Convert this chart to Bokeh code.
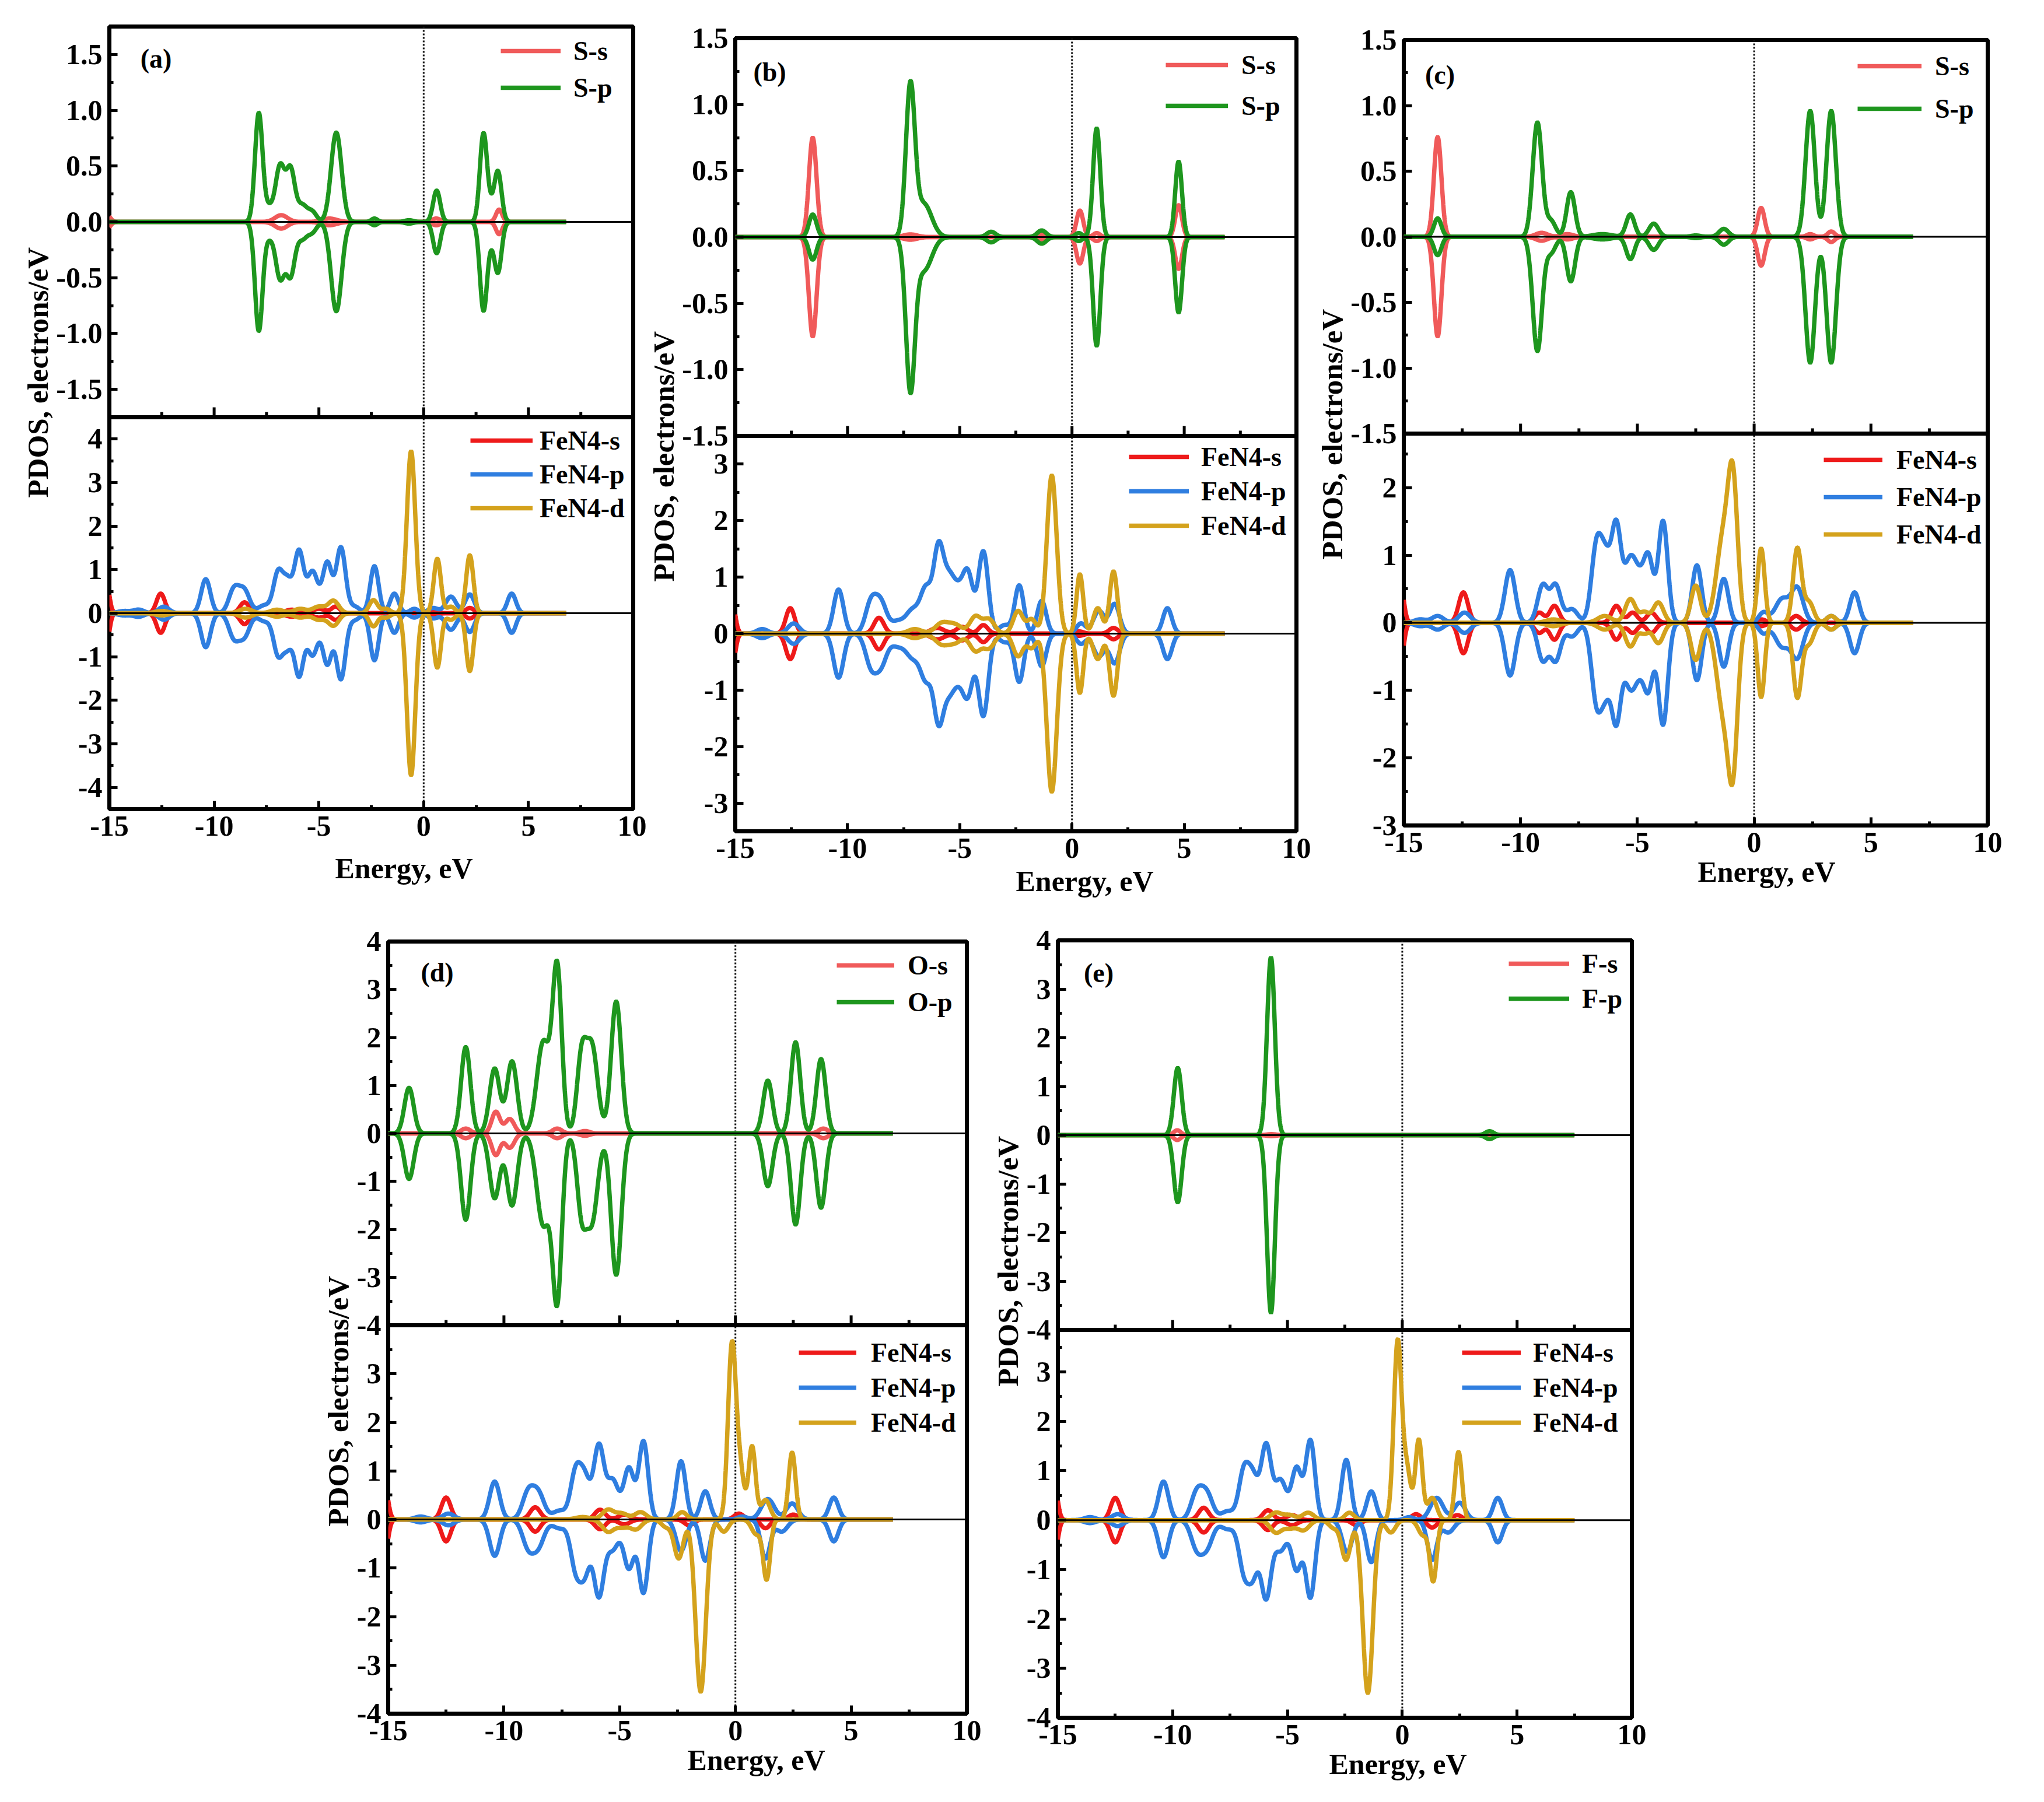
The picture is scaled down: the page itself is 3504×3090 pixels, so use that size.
import numpy as np

from bokeh.plotting import figure
from bokeh.models import Range1d, FixedTicker, Span, Label, Legend, LegendItem, Spacer, Title
from bokeh.layouts import row, column
from bokeh.embed import file_html
from bokeh.resources import INLINE

FONT = "Liberation Serif"

# colours of the orbitals
c_xs = "#f05a5a"   # S-s / O-s / F-s
c_xp = "#1e961e"   # S-p / O-p / F-p
c_fs = "#ee1a1a"   # FeN4-s
c_fp = "#2f7ee0"   # FeN4-p
c_fd = "#d4a21c"   # FeN4-d

# energy axis
x_major = [-15, -10, -5, 0, 5, 10]
x_minor = [-12.5, -7.5, -2.5, 2.5, 7.5]

# PDOS peaks: (energy eV, height electrons/eV, broadening eV)
# ---- (a) S doped
a_s_s = [(-15.1, 0.06, 0.15), (-6.8, 0.06, 0.3), (-4.5, 0.03, 0.35), (0.6, 0.03, 0.2), (3.6, 0.11, 0.15)]
a_s_p = [(-7.87, 0.97, 0.18), (-7.4, 0.12, 0.2), (-6.85, 0.5, 0.22), (-6.35, 0.45, 0.2), (-5.8, 0.15, 0.25),
         (-5.3, 0.08, 0.2), (-4.17, 0.8, 0.25), (-2.35, 0.03, 0.15), (-0.7, 0.015, 0.2), (0.62, 0.28, 0.17),
         (2.85, 0.77, 0.17), (3.2, 0.12, 0.2), (3.55, 0.43, 0.17)]
a_fe_s = [(-15.15, 0.75, 0.14), (-12.55, 0.45, 0.2), (-8.55, 0.25, 0.22), (-6.3, 0.08, 0.3), (-5.0, 0.1, 0.3),
          (-4.2, 0.15, 0.2), (0.5, 0.05, 0.2), (2.2, 0.12, 0.2)]
a_fe_p = [(-14.3, 0.05, 0.3), (-13.6, 0.08, 0.25), (-12.4, 0.15, 0.25), (-10.4, 0.78, 0.22), (-9.05, 0.55, 0.25),
          (-8.55, 0.5, 0.25), (-7.6, 0.18, 0.3), (-6.95, 0.9, 0.22), (-6.5, 0.7, 0.22), (-5.95, 1.4, 0.22),
          (-5.3, 0.95, 0.25), (-4.6, 1.15, 0.22), (-3.95, 1.5, 0.22), (-3.3, 0.15, 0.25), (-2.35, 1.08, 0.2),
          (-1.4, 0.45, 0.2), (-0.45, 0.1, 0.2), (0.45, 0.12, 0.25), (1.3, 0.38, 0.25), (2.2, 0.43, 0.22),
          (4.2, 0.45, 0.2)]
a_fe_d = [(-12.5, 0.05, 0.3), (-8.5, 0.1, 0.3), (-7.0, 0.08, 0.3), (-5.9, 0.1, 0.3), (-5.0, 0.15, 0.3),
          (-4.3, 0.28, 0.25), (-2.4, 0.3, 0.2), (-1.8, 0.1, 0.2), (-0.6, 3.72, 0.2), (0.65, 1.25, 0.17),
          (1.3, 0.15, 0.2), (2.2, 1.33, 0.17)]

# ---- (b) S doped
b_s_s = [(-11.55, 0.75, 0.17), (-7.2, 0.02, 0.3), (-1.3, 0.02, 0.2), (0.35, 0.2, 0.15), (1.1, 0.03, 0.15),
         (4.75, 0.24, 0.15)]
b_s_p = [(-11.55, 0.17, 0.17), (-7.2, 1.12, 0.2), (-6.6, 0.25, 0.35), (-3.6, 0.04, 0.2), (-1.35, 0.05, 0.2),
         (0.3, 0.03, 0.15), (1.1, 0.82, 0.16), (4.75, 0.57, 0.15)]
b_fe_s = [(-15.15, 0.6, 0.14), (-12.55, 0.45, 0.2), (-8.6, 0.28, 0.22), (-6.0, 0.1, 0.3), (-4.9, 0.12, 0.25),
          (-3.95, 0.15, 0.2), (0.3, 0.04, 0.2), (1.85, 0.1, 0.2)]
b_fe_p = [(-13.8, 0.08, 0.25), (-12.4, 0.18, 0.25), (-10.4, 0.78, 0.22), (-8.95, 0.55, 0.25), (-8.5, 0.5, 0.25),
          (-7.8, 0.2, 0.3), (-7.1, 0.4, 0.3), (-6.5, 0.75, 0.25), (-5.95, 1.4, 0.22), (-5.5, 0.8, 0.25),
          (-5.0, 0.7, 0.3), (-4.6, 0.8, 0.22), (-3.95, 1.45, 0.22), (-3.0, 0.15, 0.25), (-2.35, 0.85, 0.2),
          (-1.35, 0.58, 0.2), (0.4, 0.18, 0.2), (1.2, 0.4, 0.25), (1.9, 0.52, 0.22), (4.25, 0.45, 0.2)]
b_fe_d = [(-7.0, 0.08, 0.3), (-5.8, 0.18, 0.3), (-5.2, 0.15, 0.3), (-4.3, 0.3, 0.25), (-3.7, 0.25, 0.25),
          (-2.4, 0.4, 0.22), (-1.8, 0.25, 0.2), (-0.9, 2.8, 0.22), (0.35, 1.05, 0.15), (1.15, 0.45, 0.2),
          (1.85, 1.1, 0.17)]

# ---- (c) S doped
c_s_s = [(-13.55, 0.76, 0.16), (-9.1, 0.03, 0.25), (-8.0, 0.02, 0.25), (0.3, 0.22, 0.15), (2.4, 0.02, 0.15),
         (3.3, 0.04, 0.15)]
c_s_p = [(-13.55, 0.14, 0.16), (-9.28, 0.87, 0.2), (-8.7, 0.12, 0.2), (-7.85, 0.34, 0.18), (-6.5, 0.02, 0.4),
         (-5.3, 0.17, 0.18), (-4.3, 0.1, 0.2), (-2.5, 0.01, 0.2), (-1.3, 0.06, 0.2), (2.4, 0.96, 0.2),
         (3.3, 0.96, 0.2)]
c_fe_s = [(-15.15, 0.6, 0.14), (-12.45, 0.45, 0.2), (-9.2, 0.15, 0.2), (-8.55, 0.25, 0.2), (-5.9, 0.25, 0.2),
          (-5.2, 0.15, 0.2), (-4.4, 0.15, 0.2), (0.3, 0.05, 0.2), (1.8, 0.1, 0.2)]
c_fe_p = [(-14.3, 0.05, 0.25), (-13.55, 0.1, 0.25), (-12.4, 0.15, 0.25), (-10.45, 0.78, 0.22), (-9.05, 0.55, 0.22),
          (-8.5, 0.55, 0.22), (-7.8, 0.2, 0.25), (-6.75, 1.1, 0.22), (-6.35, 0.85, 0.22), (-5.9, 1.35, 0.2),
          (-5.35, 0.75, 0.25), (-4.9, 0.6, 0.3), (-4.5, 0.75, 0.2), (-3.9, 1.5, 0.2), (-2.45, 0.85, 0.2),
          (-1.3, 0.65, 0.2), (0.4, 0.15, 0.2), (1.2, 0.35, 0.3), (1.85, 0.5, 0.25), (3.3, 0.1, 0.2),
          (4.3, 0.45, 0.2)]
c_fe_d = [(-8.6, 0.05, 0.3), (-6.4, 0.1, 0.3), (-5.3, 0.35, 0.22), (-4.7, 0.15, 0.2), (-4.1, 0.3, 0.22),
          (-2.5, 0.55, 0.2), (-1.3, 1.3, 0.3), (-0.9, 1.8, 0.2), (0.3, 1.1, 0.15), (1.85, 1.1, 0.18),
          (2.35, 0.3, 0.2), (3.3, 0.1, 0.2)]

# ---- (d) O doped
d_o_s = [(-11.65, 0.1, 0.2), (-10.35, 0.45, 0.18), (-9.75, 0.3, 0.2), (-7.7, 0.1, 0.2), (-6.5, 0.05, 0.2),
         (3.8, 0.1, 0.2)]
d_o_p = [(-14.1, 0.95, 0.2), (-11.65, 1.8, 0.2), (-10.4, 1.35, 0.22), (-9.65, 1.5, 0.22), (-8.3, 1.9, 0.28),
         (-7.7, 3.4, 0.2), (-6.65, 1.5, 0.2), (-6.2, 1.8, 0.25), (-5.15, 2.75, 0.22), (1.4, 1.1, 0.2),
         (2.6, 1.9, 0.2), (3.7, 1.55, 0.2)]
d_o_p_dn = [(-14.1, 0.95, 0.2), (-11.65, 1.8, 0.2), (-10.4, 1.35, 0.22), (-9.65, 1.5, 0.22), (-8.3, 1.9, 0.28),
            (-7.7, 3.4, 0.2), (-6.65, 1.5, 0.2), (-6.2, 1.8, 0.25), (-5.15, 2.95, 0.22), (1.4, 1.1, 0.2),
            (2.6, 1.9, 0.2), (3.7, 1.55, 0.2)]
d_fe_s = [(-15.15, 0.7, 0.14), (-12.5, 0.45, 0.2), (-8.65, 0.25, 0.22), (-5.85, 0.2, 0.22), (-4.8, 0.1, 0.25),
          (0.15, 0.12, 0.2), (2.5, 0.1, 0.2)]
d_fe_s_dn = [(-15.15, 0.7, 0.14), (-12.5, 0.45, 0.2), (-8.65, 0.25, 0.22), (-5.85, 0.2, 0.22), (-4.8, 0.1, 0.25),
             (-2.0, 0.12, 0.2), (1.3, 0.18, 0.2)]
d_fe_p = [(-13.6, 0.06, 0.25), (-12.4, 0.12, 0.25), (-10.4, 0.78, 0.22), (-8.95, 0.55, 0.25), (-8.5, 0.5, 0.25),
          (-7.6, 0.18, 0.3), (-6.9, 0.95, 0.22), (-6.5, 0.8, 0.22), (-5.9, 1.5, 0.22), (-5.3, 0.8, 0.25),
          (-4.6, 1.05, 0.22), (-3.97, 1.6, 0.2), (-2.35, 1.2, 0.2), (-1.3, 0.58, 0.2), (0.3, 0.06, 0.2),
          (1.4, 0.42, 0.28), (2.45, 0.33, 0.25), (4.25, 0.45, 0.2)]
d_fe_p_dn = [(-13.6, 0.06, 0.25), (-12.4, 0.12, 0.25), (-10.4, 0.75, 0.22), (-8.95, 0.55, 0.25), (-8.5, 0.5, 0.25),
             (-7.6, 0.18, 0.3), (-6.9, 0.95, 0.22), (-6.5, 1.0, 0.22), (-5.9, 1.55, 0.22), (-5.3, 0.6, 0.25),
             (-4.6, 1.0, 0.22), (-3.97, 1.5, 0.2), (-2.35, 0.65, 0.22), (-1.3, 0.85, 0.2), (1.3, 0.8, 0.2),
             (2.0, 0.25, 0.25), (4.25, 0.45, 0.2)]
d_fe_d = [(-6.6, 0.05, 0.3), (-5.5, 0.2, 0.25), (-4.9, 0.12, 0.25), (-4.1, 0.15, 0.25), (-2.3, 0.15, 0.2),
          (-0.15, 3.55, 0.17), (0.2, 1.0, 0.17), (0.72, 1.5, 0.15), (1.3, 0.4, 0.2), (2.45, 1.38, 0.15)]
d_fe_d_dn = [(-5.5, 0.25, 0.25), (-4.9, 0.15, 0.25), (-4.3, 0.2, 0.25), (-3.0, 0.15, 0.2), (-2.45, 0.8, 0.2),
             (-1.5, 3.55, 0.22), (-0.5, 0.25, 0.2), (0.9, 0.3, 0.2), (1.35, 1.22, 0.15)]

# ---- (e) F doped
e_f_s = [(-9.8, 0.1, 0.15), (-5.7, 0.02, 0.2), (3.8, 0.05, 0.15)]
e_f_p = [(-9.78, 1.38, 0.17), (-5.72, 3.65, 0.17), (3.8, 0.08, 0.18)]
e_fe_s = [(-15.15, 0.7, 0.14), (-12.5, 0.45, 0.2), (-8.65, 0.25, 0.22), (-5.85, 0.2, 0.22), (-4.8, 0.1, 0.25),
          (0.6, 0.12, 0.2), (2.4, 0.1, 0.2)]
e_fe_s_dn = [(-15.15, 0.7, 0.14), (-12.5, 0.45, 0.2), (-8.65, 0.25, 0.22), (-5.85, 0.2, 0.22), (-4.8, 0.1, 0.25),
             (-2.0, 0.1, 0.2), (1.3, 0.15, 0.2)]
e_fe_p = [(-13.6, 0.06, 0.25), (-12.4, 0.12, 0.25), (-10.4, 0.78, 0.22), (-8.95, 0.55, 0.25), (-8.5, 0.5, 0.25),
          (-7.6, 0.18, 0.3), (-6.9, 0.95, 0.22), (-6.5, 0.8, 0.22), (-5.93, 1.5, 0.22), (-5.3, 0.8, 0.25),
          (-4.6, 1.05, 0.22), (-4.0, 1.6, 0.2), (-2.44, 1.22, 0.2), (-1.35, 0.58, 0.2), (0.3, 0.06, 0.2),
          (1.5, 0.45, 0.28), (2.5, 0.35, 0.25), (4.16, 0.45, 0.2)]
e_fe_p_dn = [(-13.6, 0.06, 0.25), (-12.4, 0.12, 0.25), (-10.4, 0.75, 0.22), (-8.95, 0.55, 0.25), (-8.5, 0.5, 0.25),
             (-7.6, 0.18, 0.3), (-6.9, 0.95, 0.22), (-6.5, 1.0, 0.22), (-5.93, 1.55, 0.22), (-5.3, 0.6, 0.25),
             (-4.6, 1.0, 0.22), (-4.0, 1.55, 0.2), (-2.4, 0.65, 0.22), (-1.35, 0.85, 0.2), (1.3, 0.8, 0.2),
             (2.0, 0.25, 0.25), (4.16, 0.45, 0.2)]
e_fe_d = [(-5.5, 0.15, 0.25), (-4.9, 0.1, 0.25), (-4.1, 0.15, 0.25), (-2.3, 0.15, 0.2), (-0.2, 3.6, 0.17),
          (0.2, 1.0, 0.17), (0.72, 1.62, 0.15), (1.3, 0.45, 0.2), (2.45, 1.38, 0.15)]
e_fe_d_dn = [(-5.5, 0.25, 0.25), (-4.9, 0.15, 0.25), (-4.3, 0.2, 0.25), (-3.0, 0.15, 0.2), (-2.45, 0.8, 0.2),
             (-1.5, 3.5, 0.22), (-0.5, 0.25, 0.2), (0.9, 0.3, 0.2), (1.35, 1.22, 0.15)]

# y ticks of the sub-panels
half_ticks = [-1.5, -1.0, -0.5, 0.0, 0.5, 1.0, 1.5]
quarter_minor = [-1.25, -0.75, -0.25, 0.25, 0.75, 1.25]
int_ticks_4 = [-4, -3, -2, -1, 0, 1, 2, 3, 4]
half_minor_4 = [-3.5, -2.5, -1.5, -0.5, 0.5, 1.5, 2.5, 3.5]


def pdos(peaks, energy):
    y = np.zeros_like(energy)
    for c, h, w in peaks:
        y += h * np.exp(-0.5 * ((energy - c) / w) ** 2)
    return y


def legend(p, items, g, spec):
    gx, last_y, gw, standoff, spacing = spec
    leg = Legend(items=items, location=(gx - g["L"], g["B"] - (last_y + 27)),
                 glyph_width=gw, glyph_height=54, label_height=54, label_standoff=standoff,
                 spacing=spacing, padding=0, margin=0, border_line_color=None,
                 background_fill_alpha=0, label_text_font=FONT, label_text_font_style="bold",
                 label_text_font_size="46px", label_text_color="black")
    p.add_layout(leg)


def panel(g, top_rng, bot_rng, top_ticks, top_minor, top_fmt, bot_ticks, bot_minor,
          top_lines, bot_lines, e_end):
    top_h = g["D"] - g["T"]
    bot_h = g["B"] - g["D"]
    H = top_h + bot_h
    t0, t1 = top_rng
    b0, b1 = bot_rng
    b_hi = b0 + (b1 - b0) * H / bot_h
    t_lo = t1 - (t1 - t0) * H / top_h

    def conv(v):
        if v == t1:
            return b_hi
        return b0 + (v - t_lo) / (t1 - t_lo) * (b_hi - b0)

    p = figure(width=g["fw"], height=g["fh"], x_range=Range1d(-15, 10), y_range=Range1d(b0, b_hi),
               min_border_left=g["L"] - g["x0"], min_border_right=g["x0"] + g["fw"] - g["R"],
               min_border_top=g["T"] - g["y0"], min_border_bottom=g["y0"] + g["fh"] - g["B"],
               output_backend="svg", toolbar_location=None, tools="")
    p.extra_y_ranges = {"top": Range1d(t_lo, t1)}
    p.grid.visible = False
    p.outline_line_color = "black"
    p.outline_line_width = 7
    p.background_fill_color = "white"
    p.border_fill_color = "white"

    labels = {}
    for v in bot_ticks:
        labels[float(v)] = "{:g}".format(v)
    for v in top_ticks:
        labels[conv(v)] = top_fmt.format(v)
    minors = [float(v) for v in bot_minor] + [conv(v) for v in top_minor]
    p.yaxis.ticker = FixedTicker(ticks=sorted(labels), minor_ticks=minors)
    p.yaxis.major_label_overrides = labels
    p.xaxis.ticker = FixedTicker(ticks=x_major, minor_ticks=x_minor)
    p.xaxis.major_label_overrides = {v: str(v) for v in x_major}

    for ax in (p.xaxis[0], p.yaxis[0]):
        ax.axis_line_color = None
        ax.major_tick_in = 14
        ax.major_tick_out = 0
        ax.minor_tick_in = 7
        ax.minor_tick_out = 0
        ax.major_tick_line_width = 5
        ax.minor_tick_line_width = 5
        ax.major_tick_line_color = "black"
        ax.minor_tick_line_color = "black"
        ax.major_label_text_font = FONT
        ax.major_label_text_font_style = "bold"
        ax.major_label_text_font_size = "50px"
        ax.major_label_text_color = "black"
    p.yaxis.major_label_standoff = 12
    p.xaxis.major_label_standoff = 12

    # Fermi level
    p.add_layout(Span(location=0, dimension="height", line_color="#111111", line_width=3,
                      line_dash="3 3", level="underlay"))

    energy = np.arange(-15.0, e_end + 0.001, 0.01)
    top_items = []
    for name, color, up, dn in top_lines:
        r = p.line(energy, pdos(up, energy), line_color=color, line_width=7.5, y_range_name="top")
        p.line(energy, -pdos(dn, energy), line_color=color, line_width=7.5, y_range_name="top")
        top_items.append(LegendItem(label=name, renderers=[r]))
    bot_items = []
    for name, color, up, dn in bot_lines:
        r = p.line(energy, pdos(up, energy), line_color=color, line_width=7.5)
        p.line(energy, -pdos(dn, energy), line_color=color, line_width=7.5)
        bot_items.append(LegendItem(label=name, renderers=[r]))

    # zero lines
    p.add_layout(Span(location=0, dimension="width", line_color="black", line_width=3, y_range_name="top"))
    p.add_layout(Span(location=0, dimension="width", line_color="black", line_width=3))

    # divider between the two stacked panels, with its ticks pointing up
    p.add_layout(Span(location=b1, dimension="width", line_color="black", line_width=7))
    k = (t1 - t0) / top_h
    p.segment(x0=x_major, y0=[t0] * len(x_major), x1=x_major, y1=[t0 + 17 * k] * len(x_major),
              line_color="black", line_width=5, y_range_name="top")
    p.segment(x0=x_minor, y0=[t0] * len(x_minor), x1=x_minor, y1=[t0 + 9 * k] * len(x_minor),
              line_color="black", line_width=5, y_range_name="top")

    legend(p, top_items, g, g["leg_top"])
    legend(p, bot_items, g, g["leg_bot"])

    tx, ty = g["tag_xy"]
    p.add_layout(Label(x=tx - g["L"], y=g["B"] - ty, x_units="screen", y_units="screen", text=g["tag"],
                       text_font=FONT, text_font_style="bold", text_font_size="46px", text_color="black",
                       text_align="center", text_baseline="middle"))

    # axis titles, placed along the frame as in the original
    p.add_layout(Title(text="Energy, eV", align="left", offset=g["xt"], vertical_align="middle",
                       standoff=g["xs"], text_font=FONT, text_font_style="bold", text_font_size="50px",
                       text_color="black"), "below")
    p.add_layout(Title(text="PDOS,  electrons/eV", align="left", offset=g["yt"], vertical_align="middle",
                       standoff=0, text_font=FONT, text_font_style="bold", text_font_size="51px",
                       text_color="black"), "left")
    return p


# page geometry (pixels): figure box, frame edges, texts, legends
ga = dict(x0=8, y0=8, fw=1108, fh=1580, L=195, R=1093, T=53, D=723, B=1395,
          tag="(a)", tag_xy=(275, 108), xt=387, xs=48, yt=534,
          leg_top=(866, 158, 103, 22, 9), leg_bot=(814, 879, 107, 12, 4))
gb = dict(x0=1116, y0=8, fw=1146, fh=1580, L=1257, R=2230, T=73, D=755, B=1433,
          tag="(b)", tag_xy=(1316, 131), xt=481, xs=16, yt=428,
          leg_top=(1995, 189, 107, 23, 16), leg_bot=(1932, 909, 103, 21, 5))
gc = dict(x0=2262, y0=8, fw=1234, fh=1580, L=2407, R=3415, T=76, D=751, B=1423,
          tag="(c)", tag_xy=(2469, 136), xt=504, xs=4, yt=456,
          leg_top=(3185, 194, 110, 23, 19), leg_bot=(3127, 924, 101, 24, 10))
gd = dict(x0=530, y0=1588, fw=1165, fh=1494, L=673, R=1665, T=1622, D=2280, B=2946,
          tag="(d)", tag_xy=(757, 1675), xt=513, xs=4, yt=321,
          leg_top=(1442, 1726, 99, 23, 9), leg_bot=(1377, 2447, 99, 25, 6))
ge = dict(x0=1695, y0=1588, fw=1205, fh=1494, L=1821, R=2805, T=1620, D=2288, B=2953,
          tag="(e)", tag_xy=(1891, 1676), xt=465, xs=4, yt=568,
          leg_top=(2594, 1720, 104, 22, 6), leg_bot=(2514, 2447, 101, 21, 6))

pa = panel(ga, (-1.75, 1.75), (-4.5, 4.5), half_ticks, quarter_minor, "{:.1f}", int_ticks_4, half_minor_4,
           [("S-s", c_xs, a_s_s, a_s_s), ("S-p", c_xp, a_s_p, a_s_p)],
           [("FeN4-s", c_fs, a_fe_s, a_fe_s), ("FeN4-p", c_fp, a_fe_p, a_fe_p), ("FeN4-d", c_fd, a_fe_d, a_fe_d)],
           6.8)
pb = panel(gb, (-1.5, 1.5), (-3.5, 3.5), half_ticks, quarter_minor, "{:.1f}", [-3, -2, -1, 0, 1, 2, 3],
           [-2.5, -1.5, -0.5, 0.5, 1.5, 2.5],
           [("S-s", c_xs, b_s_s, b_s_s), ("S-p", c_xp, b_s_p, b_s_p)],
           [("FeN4-s", c_fs, b_fe_s, b_fe_s), ("FeN4-p", c_fp, b_fe_p, b_fe_p), ("FeN4-d", c_fd, b_fe_d, b_fe_d)],
           6.8)
pc = panel(gc, (-1.5, 1.5), (-3.0, 2.8), half_ticks, quarter_minor, "{:.1f}", [-3, -2, -1, 0, 1, 2],
           [-2.5, -1.5, -0.5, 0.5, 1.5, 2.5],
           [("S-s", c_xs, c_s_s, c_s_s), ("S-p", c_xp, c_s_p, c_s_p)],
           [("FeN4-s", c_fs, c_fe_s, c_fe_s), ("FeN4-p", c_fp, c_fe_p, c_fe_p), ("FeN4-d", c_fd, c_fe_d, c_fe_d)],
           6.8)
pd_ = panel(gd, (-4, 4), (-4, 4), int_ticks_4, half_minor_4, "{:g}", [-4, -3, -2, -1, 0, 1, 2, 3], half_minor_4,
            [("O-s", c_xs, d_o_s, d_o_s), ("O-p", c_xp, d_o_p, d_o_p_dn)],
            [("FeN4-s", c_fs, d_fe_s, d_fe_s_dn), ("FeN4-p", c_fp, d_fe_p, d_fe_p_dn),
             ("FeN4-d", c_fd, d_fe_d, d_fe_d_dn)],
            6.8)
pe = panel(ge, (-4, 4), (-4, 3.85), int_ticks_4, half_minor_4, "{:g}", [-4, -3, -2, -1, 0, 1, 2, 3],
           half_minor_4,
           [("F-s", c_xs, e_f_s, e_f_s), ("F-p", c_xp, e_f_p, e_f_p)],
           [("FeN4-s", c_fs, e_fe_s, e_fe_s_dn), ("FeN4-p", c_fp, e_fe_p, e_fe_p_dn),
            ("FeN4-d", c_fd, e_fe_d, e_fe_d_dn)],
           7.5)

# each figure sits in its own column so that rows do not align their frames
page = column(row(column(pa), column(pb), column(pc)),
              row(Spacer(width=522, height=1494), column(pd_), column(pe)))

open("out.html", "w").write(file_html(page, INLINE))
